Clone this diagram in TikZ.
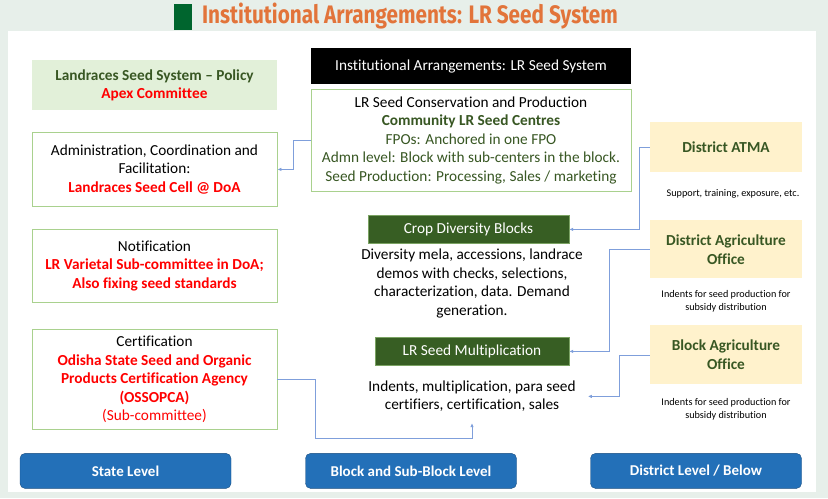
\documentclass[tikz,border=0pt]{standalone}
\usepackage{fontspec}
\setmainfont{Carlito}[Ligatures=NoCommon]
\newfontfamily\titlefont[FakeStretch=0.82]{Fira Sans}
\usetikzlibrary{arrows.meta}
\definecolor{pagebg}{HTML}{E7EFEA}
\definecolor{titlemark}{HTML}{00652E}
\definecolor{titleorange}{HTML}{E2743A}
\definecolor{textgreen}{HTML}{385723}
\definecolor{policyfill}{HTML}{E2F0D9}
\definecolor{framegreen}{HTML}{A9D18E}
\definecolor{bargreen}{HTML}{375E23}
\definecolor{paleyellow}{HTML}{FFF2CC}
\definecolor{btnblue}{HTML}{2370B8}
\definecolor{linkblue}{HTML}{7F9FDB}
\definecolor{seedred}{HTML}{FF0000}
\newcommand\seedbody{\fontsize{15.3}{18.5}\selectfont}
\newcommand\seednote{\fontsize{10.2}{13}\selectfont}
\newcommand\redb[1]{\textcolor{seedred}{\bfseries #1}}
\newcommand\greenb[1]{\textcolor{textgreen}{\bfseries #1}}
\tikzset{policybox/.style={fill=policyfill,minimum width=245pt,minimum height=50pt,inner sep=0pt,align=center,font=\seedbody}}
\tikzset{framebox/.style={draw=framegreen,line width=0.8pt,fill=white,minimum width=245pt,inner sep=0pt,align=center,font=\seedbody}}
\tikzset{darkbar/.style={fill=bargreen,draw=framegreen!60!bargreen,text=white,minimum height=28pt,inner sep=0pt,font=\seedbody}}
\tikzset{yellowbox/.style={fill=paleyellow,minimum width=152pt,inner sep=0pt,align=center,text=textgreen,font=\fontsize{15.3}{19}\selectfont\bfseries}}
\tikzset{levelbtn/.style={fill=btnblue,draw=btnblue!70!black,rounded corners=5pt,minimum width=211pt,minimum height=35pt,text=white,font=\fontsize{15}{17}\selectfont\bfseries}}
\tikzset{note/.style={align=center,inner sep=2pt,font=\seednote}}
\tikzset{link/.style={draw=linkblue,line width=0.8pt,-{Latex[length=4pt,width=3.5pt]}}}

\begin{document}
\begin{tikzpicture}[x=1pt,y=1pt,yscale=-1]
  % background and title
  \fill[pagebg] (0,0) rectangle (828,498);
  \fill[white] (8,31) rectangle (816,492);
  \fill[titlemark] (174,4) rectangle (192,30);
  \node[text=titleorange,font=\titlefont\bfseries\fontsize{25.3}{28}\selectfont] (title) at (410,16) {Institutional Arrangements: LR Seed System};

  % state level
  \node[policybox] (policy) at (154.5,85) {\greenb{Landraces Seed System – Policy}\\ \redb{Apex Committee}};
  \node[framebox,minimum height=74pt] (admin) at (154.5,169) {Administration, Coordination and\\ Facilitation:\\ \redb{Landraces Seed Cell @ DoA}};
  \node[framebox,minimum height=73pt] (notif) at (154.5,265.5) {Notification\\ \redb{LR Varietal Sub-committee in DoA;}\\ \redb{Also fixing seed standards}};
  \node[framebox,minimum height=100pt] (cert) at (154.5,379) {Certification\\ \redb{Odisha State Seed and Organic}\\ \redb{Products Certification Agency}\\ \redb{(OSSOPCA)}\\ \textcolor{seedred}{(Sub-committee)}};
  \node[levelbtn] (state) at (125.5,470.5) {State Level};

  % block and sub-block level
  \node[fill=black,text=white,minimum width=320pt,minimum height=36pt,inner sep=0pt,font=\seedbody] (head) at (471,66) {Institutional Arrangements: LR Seed System};
  \node[framebox,minimum width=320pt,minimum height=102pt] (cons) at (471,140) {LR Seed Conservation and Production\\ \greenb{Community LR Seed Centres}\\ \textcolor{textgreen}{FPOs: Anchored in one FPO}\\ \textcolor{textgreen}{Admn level: Block with sub-centers in the block.}\\ \textcolor{textgreen}{Seed Production: Processing, Sales / marketing}};
  \node[darkbar,minimum width=201pt] (cdb) at (468.5,229) {Crop Diversity Blocks};
  \node[align=center,inner sep=2pt,font=\seedbody] (cdbtext) at (472,283) {Diversity mela, accessions, landrace\\ demos with checks, selections,\\ characterization, data. Demand\\ generation.};
  \node[darkbar,minimum width=194pt] (lrm) at (472,351) {LR Seed Multiplication};
  \node[align=center,inner sep=2pt,font=\seedbody] (lrmtext) at (472,396) {Indents, multiplication, para seed\\ certifiers, certification, sales};
  \node[levelbtn] (block) at (411,470.5) {Block and Sub-Block Level};

  % district level
  \node[yellowbox,minimum height=50pt] (atma) at (726,147) {District ATMA};
  \node[note] (atmanote) at (733,193) {Support, training, exposure, etc.};
  \node[yellowbox,minimum height=58pt] (dao) at (726,249) {District Agriculture\\ Office};
  \node[note] (daonote) at (726,301) {Indents for seed production for\\ subsidy distribution};
  \node[yellowbox,minimum height=59pt] (bao) at (726,354.5) {Block Agriculture\\ Office};
  \node[note] (baonote) at (726,409) {Indents for seed production for\\ subsidy distribution};
  \node[levelbtn] (district) at (696,470.5) {District Level / Below};

  % connectors
  \draw[link] (cons.west) -- ++(-17,0) |- (admin.east);
  \draw[link] (atma.west) -- ++(-10,0) |- (cdb.east);
  \draw[link] (dao.west) -- ++(-40,0) |- (lrm.east);
  \draw[link,shorten >=10pt] (bao.west) -- ++(-30,0) |- (lrmtext.east);
  \draw[link,shorten >=9pt] (cert.east) -- ++(38,0) -- ++(0,59) -| (lrmtext.south);
\end{tikzpicture}
\end{document}
